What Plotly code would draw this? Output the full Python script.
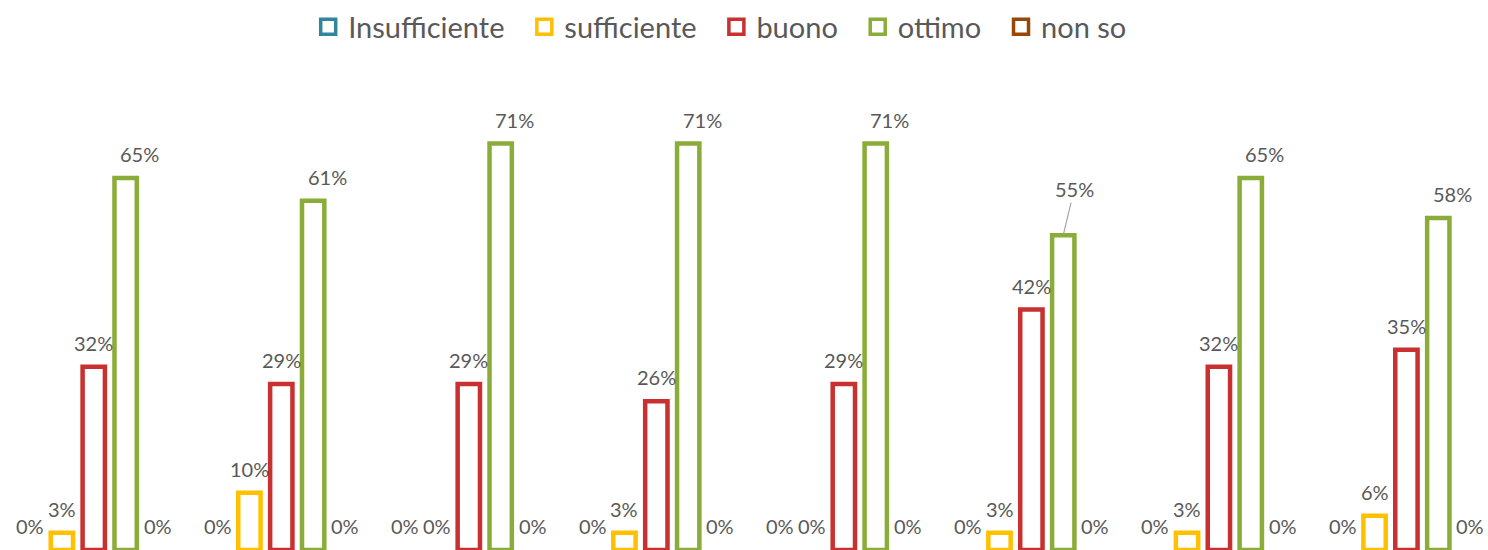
import plotly.graph_objects as go

# Survey answers per question group (share of respondents)
groups = [1, 2, 3, 4, 5, 6, 7, 8]
series_names = ["Insufficiente", "sufficiente", "buono", "ottimo", "non so"]
insufficiente = [0.00, 0.00, 0.00, 0.00, 0.00, 0.00, 0.00, 0.00]
sufficiente = [0.03, 0.10, 0.00, 0.03, 0.00, 0.03, 0.03, 0.06]
buono = [0.32, 0.29, 0.29, 0.26, 0.29, 0.42, 0.32, 0.35]
ottimo = [0.65, 0.61, 0.71, 0.71, 0.71, 0.55, 0.65, 0.58]
non_so = [0.00, 0.00, 0.00, 0.00, 0.00, 0.00, 0.00, 0.00]

values = [insufficiente, sufficiente, buono, ottimo, non_so]
colors = ["#31869B", "#FFC000", "#C8312F", "#8AAC38", "#974706"]
label_xshift = [0, 0, 0, 14, 0]

FONT = "Lato"
TEXT_COLOR = "#595959"
LINE_W = 4.5

BARGAP = 0.15
n_series = len(series_names)
slot = (1 - BARGAP) / n_series

x = list(range(len(groups)))

# the one label that sits offset with a leader line
offset_label = (3, 5)

fig = go.Figure()
for si, (name, vals, col) in enumerate(zip(series_names, values, colors)):
    fig.add_trace(go.Bar(
        name=name,
        x=x,
        y=vals,
        showlegend=False,
        legendgroup=name,
        marker=dict(
            color="white",
            line=dict(color=col, width=[LINE_W if v > 0 else 0 for v in vals]),
        ),
        hoverinfo="name+y",
    ))
    # value labels above each bar
    for gi, v in enumerate(vals):
        xc = gi + (si - (n_series - 1) / 2) * slot
        if (si, gi) == offset_label:
            fig.add_annotation(
                x=xc, y=v, xref="x", yref="y",
                text=f"{v:.0%}", showarrow=True,
                ax=11, ay=-46, arrowhead=0, arrowwidth=1.2,
                arrowcolor="#A6A6A6", standoff=2,
                font=dict(family=FONT, size=20, color=TEXT_COLOR),
            )
        else:
            fig.add_annotation(
                x=xc, y=v, xref="x", yref="y",
                text=f"{v:.0%}", showarrow=False,
                yanchor="bottom", xanchor="center",
                yshift=10, xshift=label_xshift[si],
                font=dict(family=FONT, size=20, color=TEXT_COLOR),
            )

# legend keys: hollow squares on a hidden overlay axis
for i, (name, col) in enumerate(zip(series_names, colors)):
    pad = "\u00a0\u00a0" if i < n_series - 1 else ""
    fig.add_trace(go.Scatter(
        name=name + pad, legendgroup=name,
        x=[0], y=[0], xaxis="x2", yaxis="y2",
        mode="markers",
        marker=dict(symbol="square", size=15, color="white",
                    line=dict(color=col, width=3.5)),
        hoverinfo="skip",
    ))

fig.update_layout(
    width=1488, height=550,
    margin=dict(l=0, r=0, t=92, b=0, autoexpand=False),
    paper_bgcolor="white", plot_bgcolor="white",
    barmode="group", bargap=BARGAP, bargroupgap=0.3,
    showlegend=True,
    legend=dict(
        orientation="h", x=0.484, xanchor="center", y=1.142, yanchor="middle",
        font=dict(family=FONT, size=29, color=TEXT_COLOR),
        itemwidth=30, traceorder="normal", itemclick=False, itemdoubleclick=False,
    ),
    xaxis=dict(range=[-0.5, 7.435], showticklabels=False, showgrid=False,
               zeroline=False, showline=False, ticks=""),
    yaxis=dict(range=[0, 0.8], visible=False),
    xaxis2=dict(overlaying="x", range=[1, 2], visible=False),
    yaxis2=dict(overlaying="y", range=[1, 2], visible=False),
    font=dict(family=FONT, color=TEXT_COLOR),
)

fig.write_html("out.html")
